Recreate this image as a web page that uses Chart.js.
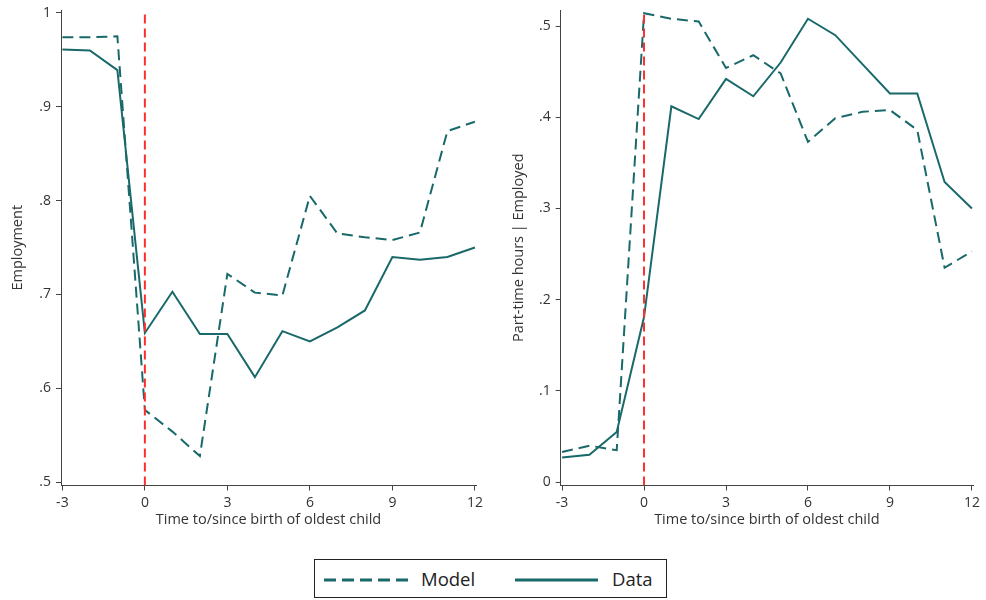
<!DOCTYPE html>
<html>
<head>
<meta charset="utf-8">
<script src="https://cdn.jsdelivr.net/npm/chart.js@4.4.1/dist/chart.umd.min.js"></script>
<style>
  body { margin: 0; background: #fff; width: 986px; height: 600px; position: relative; overflow: hidden; font-family: "Open Sans", sans-serif; }
  .panel { position: absolute; top: 0; width: 493px; height: 540px; }
  #legend { position: absolute; left: 314px; top: 559px; width: 353px; height: 39px; border: 1px solid #222; box-sizing: border-box; }
  #legend svg { position: absolute; top: 0; left: 0; }
  #legend span { position: absolute; top: 6px; font-size: 18.5px; color: #222; }
</style>
</head>
<body>
<div class="panel" style="left:0"><canvas id="graficoEmprego"></canvas></div>
<div class="panel" style="left:493px"><canvas id="graficoParcial"></canvas></div>
<div id="legend">
  <svg width="353" height="39">
    <line x1="9" y1="20" x2="94" y2="20" stroke="#19696a" stroke-width="3" stroke-dasharray="12,6"/>
    <line x1="200" y1="20" x2="283" y2="20" stroke="#19696a" stroke-width="3"/>
  </svg>
  <span style="left:106px">Model</span>
  <span style="left:297px">Data</span>
</div>
<script>
// anos em relação ao nascimento do primeiro filho
const anos = [-3, -2, -1, 0, 1, 2, 3, 4, 5, 6, 7, 8, 9, 10, 11, 12];
const xTicks = [-3, 0, 3, 6, 9, 12];

// Emprego
const empModelo = [0.974, 0.974, 0.975, 0.577, 0.554, 0.528, 0.722, 0.702, 0.699, 0.805, 0.765, 0.761, 0.758, 0.766, 0.874, 0.884];
const empDados  = [0.961, 0.960, 0.939, 0.659, 0.703, 0.658, 0.658, 0.612, 0.661, 0.650, 0.665, 0.683, 0.740, 0.737, 0.740, 0.750];
const empTicks = [0.5, 0.6, 0.7, 0.8, 0.9, 1];
const empLabels = ['.5', '.6', '.7', '.8', '.9', '1'];

// Horas parciais | empregado
const parcModelo = [0.033, 0.040, 0.035, 0.514, 0.508, 0.505, 0.454, 0.468, 0.448, 0.373, 0.399, 0.406, 0.408, 0.386, 0.235, 0.253];
const parcDados  = [0.027, 0.030, 0.055, 0.181, 0.412, 0.398, 0.442, 0.423, 0.460, 0.508, 0.490, 0.458, 0.426, 0.426, 0.329, 0.300];
const parcTicks = [0, 0.1, 0.2, 0.3, 0.4, 0.5];
const parcLabels = ['0', '.1', '.2', '.3', '.4', '.5'];

const corLinha = '#19696a';
const corEixo = '#444';
const fonte = { family: 'Open Sans', size: 14 };
const fonteTitulo = { family: 'Open Sans', size: 14.5 };

function pontos(vals) {
  return anos.map((a, i) => ({ x: a, y: vals[i] }));
}

function grafico(id, modelo, dados, yMin, yMax, ticks, labels, titulo, largY, padDir, padTitulo) {
  const ctx = document.getElementById(id).getContext('2d');
  return new Chart(ctx, {
    type: 'line',
    data: {
      datasets: [
        {
          label: 'nascimento',
          data: [{ x: 0, y: yMin }, { x: 0, y: yMax }],
          borderColor: '#ff2e2e',
          borderWidth: 2,
          borderDash: [9, 5],
          pointRadius: 0
        },
        {
          label: 'Model',
          data: pontos(modelo),
          borderColor: corLinha,
          borderWidth: 2,
          borderDash: [11, 6],
          pointRadius: 0,
          tension: 0
        },
        {
          label: 'Data',
          data: pontos(dados),
          borderColor: corLinha,
          borderWidth: 2,
          pointRadius: 0,
          tension: 0
        }
      ]
    },
    options: {
      responsive: true,
      maintainAspectRatio: false,
      animation: false,
      layout: { padding: { top: 10, right: padDir, bottom: 0, left: 0 } },
      plugins: { legend: { display: false }, tooltip: { enabled: false } },
      scales: {
        x: {
          type: 'linear',
          min: -3.05,
          max: 12.04,
          afterBuildTicks: s => { s.ticks = xTicks.map(v => ({ value: v })); },
          afterFit: s => { s.height = 54.5; s.paddingLeft = 0; s.paddingRight = 0; },
          grid: { drawOnChartArea: false, drawTicks: true, tickLength: 5, color: corEixo },
          border: { display: true, color: corEixo, width: 1 },
          ticks: { color: '#333', font: fonte, padding: 4, maxRotation: 0 },
          title: { display: true, text: 'Time to/since birth of oldest child', color: '#333', font: fonteTitulo, padding: { top: 0, bottom: 11 } }
        },
        y: {
          min: yMin,
          max: yMax,
          afterBuildTicks: s => { s.ticks = ticks.map(v => ({ value: v })); },
          afterFit: s => { s.width = largY; s.paddingTop = 0; s.paddingBottom = 0; },
          grid: { drawOnChartArea: false, drawTicks: true, tickLength: 5, color: corEixo },
          border: { display: true, color: corEixo, width: 1 },
          ticks: {
            color: '#333', font: fonte, padding: 5,
            callback: (v, i) => labels[i]
          },
          title: { display: true, text: titulo, color: '#333', font: fonteTitulo, padding: { top: padTitulo, bottom: 0 } }
        }
      }
    }
  });
}

grafico('graficoEmprego', empModelo, empDados, 0.4966, 1.003, empTicks, empLabels, 'Employment', 61, 17, 9.4);
grafico('graficoParcial', parcModelo, parcDados, -0.0037, 0.5176, parcTicks, parcLabels, 'Part-time hours | Employed', 67.7, 13, 16.8);
</script>
</body>
</html>
